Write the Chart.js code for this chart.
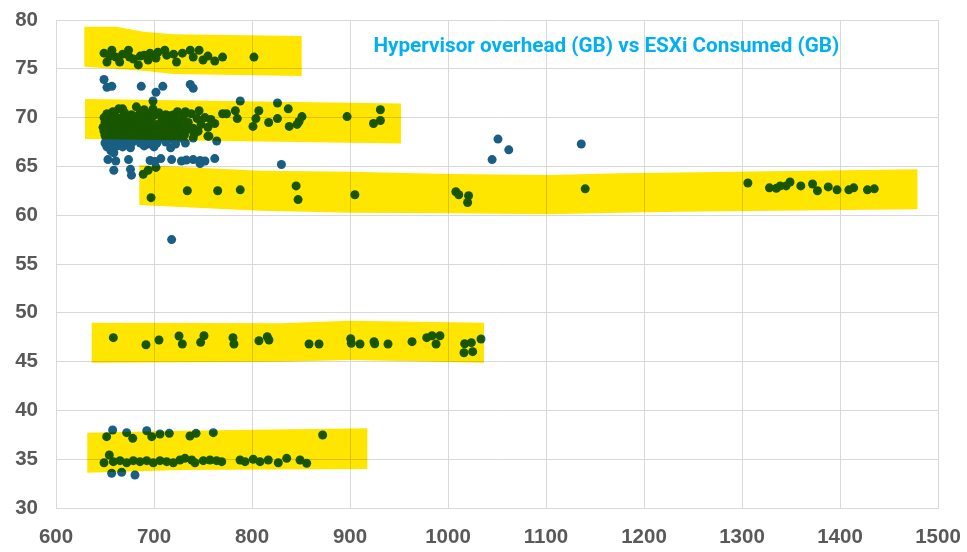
<!DOCTYPE html>
<html><head><meta charset="utf-8">
<script src="https://cdn.jsdelivr.net/npm/chart.js@4.4.1/dist/chart.umd.min.js"></script>
<style>html,body{margin:0;padding:0;background:#fff;}canvas{display:block}</style>
</head><body>
<canvas id="c" width="967" height="552"></canvas>
<script>
const chartTitle = 'Hypervisor overhead (GB) vs ESXi Consumed (GB)';
const xTickValues = [600,700,800,900,1000,1100,1200,1300,1400,1500];
const yTickValues = [30,35,40,45,50,55,60,65,70,75,80];

// ESXi Consumed (GB) = x, Hypervisor overhead (GB) = y, grouped by cluster
const grp76X = [649,652,657,661,665,674,675,684,686,694,696,702,704,711,713,723,729,737,740,746,750,755,762,770,802,655,668,679,690,720];
const grp76Y = [76.6,75.7,76.9,76.2,75.7,76.9,76.2,75.4,76.3,75.9,76.6,76.1,76.7,76.9,76.4,75.7,76.6,76.9,76.2,76.9,75.9,76.3,75.8,76.2,76.2,76.3,76.5,76.0,76.4,76.5];

const grp73X = [649,652,657,687,702,709,737,740,699,788,826];
const grp73Y = [73.9,73.1,73.2,73.2,72.6,73.2,73.4,73.0,71.7,71.7,71.5];

const grp70X = [664,668,682,690,699,712,720,732,746,758,770,774,783,785,801,804,807,817,826,838,846,848,851,897,931,924,931,837,755,740,764];
const grp70Y = [70.9,70.9,71.1,70.8,70.9,70.3,70.3,70.6,70.7,69.8,70.4,70.4,70.7,69.9,69.1,69.9,70.7,69.5,69.9,69.1,69.3,69.6,70.1,70.1,70.8,69.4,69.7,70.9,68.1,67.9,67.6];

const denseX = [652,658,670,677,686,693,705,716,724,738,
  649,655,661,667,673,680,688,695,700,708,714,722,730,744,752,
  650,654,659,664,669,675,682,690,697,703,711,718,726,735,748,762,
  648,652,657,662,666,671,678,684,691,698,706,713,721,729,740,755,
  649,653,658,663,668,674,679,686,692,700,709,717,725,733,745,
  650,655,660,665,671,677,683,689,696,704,712,720,731,741,756,
  651,657,662,669,675,682,690,698,707,716,727];
const denseY = [70.4,70.6,70.5,70.3,70.6,70.4,70.5,70.2,70.6,70.4,
  70.0,69.9,70.1,70.0,69.8,70.1,69.9,70.0,70.2,69.9,70.0,69.8,70.1,69.9,70.0,
  69.5,69.4,69.6,69.5,69.3,69.6,69.4,69.5,69.6,69.3,69.5,69.4,69.6,69.5,69.3,69.4,
  69.0,69.1,68.9,69.0,69.1,68.9,69.0,69.1,68.9,69.0,69.1,68.9,69.0,69.1,68.9,69.0,
  68.6,68.5,68.7,68.6,68.5,68.6,68.7,68.5,68.6,68.7,68.5,68.6,68.5,68.7,68.6,
  68.2,68.1,68.3,68.2,68.1,68.2,68.3,68.2,68.1,68.2,68.3,68.1,68.2,68.3,68.1,
  67.9,67.8,67.9,67.8,67.9,67.8,67.9,67.8,67.9,67.8,67.9];

const grp66X = [650,654,659,665,671,678,686,694,703,712,722,732,
  652,657,663,668,676,690,700,717,
  659,656,653,661,659,674,676,677,696,701,707,718,728,733,740,747,752,747,762,830,718];
const grp66Y = [67.4,67.3,67.5,67.4,67.3,67.5,67.4,67.3,67.4,67.5,67.3,67.4,
  67.0,66.9,67.1,67.0,66.9,67.1,67.0,66.9,
  66.4,66.6,65.7,65.55,64.6,65.7,64.7,64.1,65.6,65.5,65.8,65.7,65.55,65.65,65.7,65.6,65.55,65.3,65.8,65.2,57.5];

const outlierX = [1045,1051,1062,1136];
const outlierY = [65.7,67.8,66.7,67.3];

const grp62X = [689,694,702,697,734,765,788,845,847,905,1008,1011,1021,1020,1140,
  1306,1328,1335,1339,1345,1349,1360,1372,1377,1388,1397,1409,1414,1428,1435];
const grp62Y = [64.2,64.6,64.9,61.8,62.5,62.5,62.6,63.0,61.6,62.1,62.4,62.1,62.0,61.3,62.7,
  63.3,62.8,62.75,63.0,63.0,63.4,63.0,63.2,62.5,62.9,62.6,62.6,62.8,62.6,62.7];

const grp47X = [658.5,691.8,705.1,725.5,728.9,747.6,751,780.6,781.6,807.1,815.6,817.3,858.2,868.4,900.7,901.3,910.2,924.5,925.2,938.8,963.3,978.3,983.7,991.8,987.8,1017,1023.8,1016.3,1025.2,1033.7];
const grp47Y = [47.45,46.73,47.21,47.62,46.8,46.97,47.65,47.45,46.8,47.14,47.55,47.21,46.8,46.8,47.35,46.88,46.8,47.04,46.83,46.8,47.04,47.45,47.65,47.65,46.8,46.83,46.94,45.91,46.02,47.32];

const grp35X = [651.7,657.8,672.1,678.3,692.6,697.7,706.1,715.6,736.7,742.9,760.5,872.1,
  649,654.4,658.5,665.3,672.1,678.9,685.7,692.6,699.3,706.1,713,719.7,726.5,731.6,738.5,741.8,750.3,757.1,763.9,769.1,787.8,792.9,801.3,808.2,816.6,826.8,835.4,849,855.8,
  656.8,667,680.6];
const grp35Y = [37.31,37.99,37.72,37.14,37.92,37.31,37.58,37.65,37.38,37.65,37.72,37.48,
  34.64,35.43,34.75,34.85,34.64,34.85,34.75,34.85,34.64,34.85,34.75,34.64,34.92,35.09,34.92,34.64,34.85,34.92,34.85,34.75,34.92,34.75,34.99,34.75,34.92,34.64,35.09,34.92,34.58,
  33.56,33.66,33.38];

// hand-drawn highlighter strokes, in data units (top edge left→right, bottom edge right→left)
const highlightBands = [
  [[628.9,79.31],[661.9,79.31],[689.1,78.8],[719.7,78.53],[850.7,78.36],[850.7,74.26],[719.7,74.47],[689.1,74.81],[628.9,75.22]],
  [[629.6,71.91],[952,71.44],[952,67.35],[629.6,67.81]],
  [[685,65.14],[808,64.56],[900,64.46],[1002,64.22],[1104,64.12],[1175,64.3],[1237,64.37],[1479,64.7],[1479,60.6],[1237,60.35],[1175,60.26],[1104,60.09],[1002,60.2],[900,60.26],[808,60.46],[685,61.05]],
  [[636.4,48.99],[828.6,48.92],[900,49.19],[1036.7,48.99],[1036.7,44.89],[900,45.16],[828.6,44.99],[636.4,44.89]],
  [[631.9,37.72],[726.5,37.92],[917.7,38.17],[917.7,34.0],[726.5,33.89],[631.9,33.62]]
];

const POINT_COLOR = '#195f83';
const HIGHLIGHT = 'rgb(255,230,0)';
const GRID = '#d9d9d9';
const TICK_COLOR = '#595959';

const groups = [[grp76X,grp76Y],[grp73X,grp73Y],[grp70X,grp70Y],[denseX,denseY],[grp66X,grp66Y],[outlierX,outlierY],[grp62X,grp62Y],[grp47X,grp47Y],[grp35X,grp35Y]];
const points = [];
groups.forEach(([xs,ys]) => xs.forEach((v,i) => points.push({x:v, y:ys[i]})));

const highlighter = {
  id:'highlighter',
  afterDatasetsDraw(chart){
    const {ctx, scales:{x,y}} = chart;
    ctx.save();
    ctx.globalCompositeOperation = 'multiply';
    ctx.fillStyle = HIGHLIGHT;
    highlightBands.forEach(band => {
      ctx.beginPath();
      band.forEach(([bx,by],i) => {
        const px = x.getPixelForValue(bx), py = y.getPixelForValue(by);
        if (i) ctx.lineTo(px,py); else ctx.moveTo(px,py);
      });
      ctx.closePath();
      ctx.fill();
    });
    ctx.restore();
  }
};

const innerTitle = {
  id:'innerTitle',
  afterDraw(chart){
    const {ctx, chartArea:a} = chart;
    ctx.save();
    ctx.font = 'bold 20.7px Roboto';
    ctx.fillStyle = '#00B0F0';
    ctx.textAlign = 'center';
    ctx.textBaseline = 'middle';
    ctx.fillText(chartTitle, a.left + 0.624*(a.right-a.left), a.top + 27);
    ctx.restore();
  }
};

const tickFont = {family:'Liberation Sans, Arial, sans-serif', size:20.5, weight:'bold'};

new Chart(document.getElementById('c'), {
  type:'scatter',
  data:{datasets:[{data:points, backgroundColor:POINT_COLOR, borderWidth:0, pointRadius:4.5, pointHoverRadius:4.5}]},
  options:{
    responsive:false, animation:false, devicePixelRatio:1,
    layout:{padding:{top:20,right:29,left:0,bottom:0}},
    plugins:{legend:{display:false}, tooltip:{enabled:false}, title:{display:false}},
    scales:{
      x:{type:'linear', min:600, max:1500,
        afterBuildTicks:s=>{s.ticks = xTickValues.map(v=>({value:v}));},
        grid:{color:GRID, drawTicks:false}, border:{color:GRID},
        ticks:{font:tickFont, color:TICK_COLOR, padding:17, maxRotation:0, autoSkip:false, callback:v=>String(v)},
        afterFit:s=>{s.height = 44; s.paddingLeft = 0; s.paddingRight = 0;}},
      y:{type:'linear', min:30, max:80,
        afterBuildTicks:s=>{s.ticks = yTickValues.map(v=>({value:v}));},
        grid:{color:GRID, drawTicks:false}, border:{color:GRID},
        ticks:{font:tickFont, color:TICK_COLOR, padding:18, autoSkip:false, callback:v=>String(v)},
        afterFit:s=>{s.width = 56; s.paddingTop = 0; s.paddingBottom = 0;}}
    }
  },
  plugins:[highlighter, innerTitle]
});
</script>
</body></html>
